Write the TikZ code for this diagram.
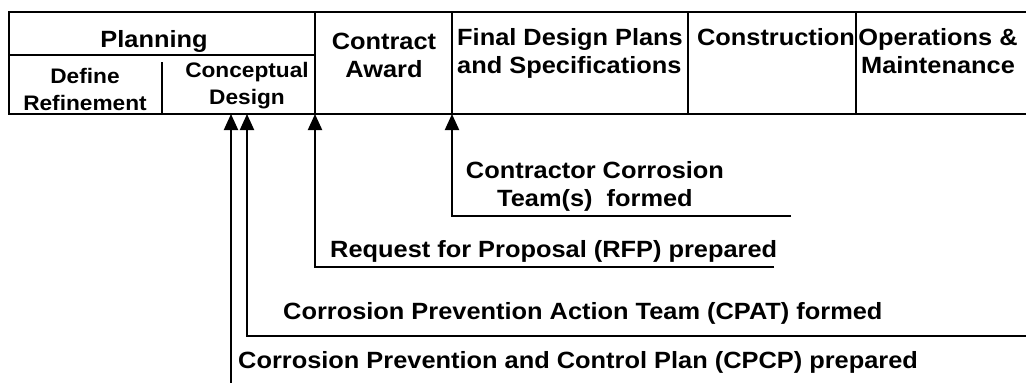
\documentclass[tikz,border=0pt]{standalone}
\usepackage{fontspec}
\setmainfont{Liberation Sans}[FakeStretch=1.08]
\usetikzlibrary{arrows.meta}

\tikzset{
  rule/.style={line width=2pt},
  milestone/.style={line width=2pt,-{Triangle[length=16pt,width=14pt]}},
  phase/.style={inner sep=0pt,align=center,anchor=base,
    font=\fontsize{23.5}{27.5}\selectfont\bfseries},
  subphase/.style={phase,font=\fontsize{21}{26.5}\selectfont\bfseries},
  event/.style={inner sep=0pt,anchor=base west,
    font=\fontsize{23.5}{27.5}\selectfont\bfseries}
}

\begin{document}
\begin{tikzpicture}[x=1pt,y=-1pt]
\useasboundingbox (0,0) rectangle (1026,383);
  \draw[rule] (1026,12) -- (9,12) -- (9,114) -- (1026,114);
  \draw[rule] (9,55) -- (315,55);
  \draw[rule] (162,62) -- (162,114);
  \foreach \xcol in {315,452,688,856}
    { \draw[rule] (\xcol,12) -- (\xcol,114); }

  \node[phase] (planning) at (154,47) {Planning};
  \node[subphase] (define) at (85,110) {Define\\Refinement};
  \node[subphase] (conceptual) at (247,104) {Conceptual\\Design};
  \node[phase] (contract) at (384,77) {Contract\\Award};
  \node[phase,anchor=base west,align=left] (finaldesign) at (457,73)
    {Final Design Plans\\and Specifications};
  \node[phase] (construction) at (776,45) {Construction};
  \node[phase] (operations) at (938,73) {Operations \&\\Maintenance};

  \coordinate (cpcptip) at (231,114);
  \coordinate (cpattip) at (247,114);
  \coordinate (rfptip) at (315,114);
  \coordinate (teamtip) at (452,114);
  \coordinate (cpcpfoot) at (231,383);
  \coordinate (cpatend) at (1026,336);
  \coordinate (rfpend) at (774,267);
  \coordinate (teamend) at (791,216);

  \draw[milestone] (cpcpfoot) -- (cpcptip);
  \draw[milestone] (cpatend) -| (cpattip);
  \draw[milestone] (rfpend) -| (rfptip);
  \draw[milestone] (teamend) -| (teamtip);

  \node[phase] (team) at (595,206) {Contractor Corrosion\\Team(s)\ \ formed};
  \node[event] (rfp) at (330,257) {Request for Proposal (RFP) prepared};
  \node[event] (cpat) at (283,319) {Corrosion Prevention Action Team (CPAT) formed};
  \node[event] (cpcp) at (238,368) {Corrosion Prevention and Control Plan (CPCP) prepared};
\end{tikzpicture}
\end{document}
